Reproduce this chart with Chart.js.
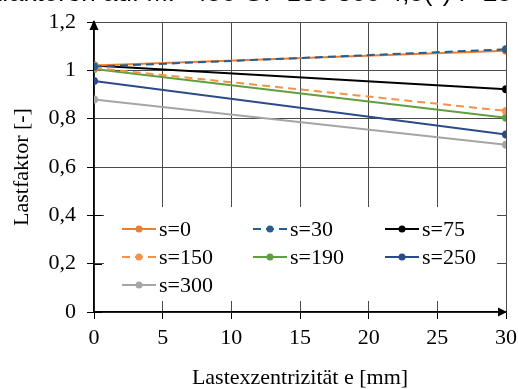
<!DOCTYPE html>
<html lang="de">
<head>
<meta charset="UTF-8" />
<title>Lastfaktor</title>
<script src="https://cdn.jsdelivr.net/npm/chart.js"></script>
<style>
  body { margin: 0; background: #fff; }
  canvas { display: block; }
</style>
</head>
<body>
<canvas id="myChart" width="518" height="389"></canvas>
<script>
// Lastexzentrizität e [mm]
var ecc = [0, 30];

// Lastfaktor je Serie
var s0   = [1.02, 1.081];
var s30  = [1.015, 1.087];
var s75  = [1.02, 0.922];
var s150 = [1.01, 0.832];
var s190 = [1.006, 0.804];
var s250 = [0.956, 0.734];
var s300 = [0.879, 0.692];

var labels = ["s=0", "s=30", "s=75", "s=150", "s=190", "s=250", "s=300"];
var values = [s0, s30, s75, s150, s190, s250, s300];
var colors = ["#ED7D31", "#255E91", "#000000", "#F4914A", "#5FA03C", "#2B4A8A", "#A5A5A5"];
var dashes = [[], [8, 5], [], [8, 5], [], [], []];

var titleText = "Lastfaktoren auf MP 450 GF 130 300 4,5(*) P 25";
var serif = "'Liberation Serif', 'Times New Roman', serif";

var datasets = values.map(function (v, i) {
  return {
    label: labels[i],
    data: v.map(function (y, j) { return { x: ecc[j], y: y }; }),
    borderColor: colors[i],
    backgroundColor: colors[i],
    borderWidth: 2,
    borderDash: dashes[i],
    pointRadius: 4,
    pointHoverRadius: 4,
    pointBorderWidth: 0,
    fill: false,
    order: i == 1 ? -1 : i
  };
});

// white legend box inside the plot, 3 columns
var legendBox = {
  id: "legendBox",
  beforeDatasetsDraw: function (chart) {
    var ctx = chart.ctx;
    ctx.save();
    ctx.fillStyle = "#fff";
    ctx.fillRect(104, 207, 393, 94);
    ctx.restore();
  },
  afterDraw: function (chart) {
    var ctx = chart.ctx;
    ctx.save();
    ctx.font = "22px " + serif;
    ctx.textBaseline = "middle";
    var colX = [122, 253, 385];
    var rowY = [229, 257, 285];
    chart.data.datasets.forEach(function (ds, i) {
      var x = colX[i % 3], y = rowY[Math.floor(i / 3)];
      ctx.strokeStyle = ds.borderColor;
      ctx.lineWidth = 2;
      ctx.setLineDash(ds.borderDash);
      ctx.beginPath();
      ctx.moveTo(x, y);
      ctx.lineTo(x + 34, y);
      ctx.stroke();
      ctx.setLineDash([]);
      ctx.fillStyle = ds.borderColor;
      ctx.beginPath();
      ctx.arc(x + 17, y, 3.5, 0, Math.PI * 2);
      ctx.fill();
      ctx.fillStyle = "#000";
      ctx.fillText(ds.label, x + 37, y + 1);
    });

    // axis arrows
    var xs = chart.scales.x, ys = chart.scales.y;
    var x0 = xs.getPixelForValue(0), y0 = ys.getPixelForValue(0);
    var yTop = ys.getPixelForValue(1.2), xEnd = xs.getPixelForValue(30);
    ctx.fillStyle = "#000";
    ctx.beginPath();
    ctx.moveTo(x0, yTop - 2);
    ctx.lineTo(x0 - 4.5, yTop + 8);
    ctx.lineTo(x0 + 4.5, yTop + 8);
    ctx.closePath();
    ctx.fill();
    ctx.beginPath();
    ctx.moveTo(xEnd + 1, y0);
    ctx.lineTo(xEnd - 8, y0 - 4.5);
    ctx.lineTo(xEnd - 8, y0 + 4.5);
    ctx.closePath();
    ctx.fill();

    // crossing tick marks (inner half)
    ctx.strokeStyle = "#000";
    ctx.lineWidth = 1;
    [0, 0.2, 0.4].forEach(function (v) {
      var py = Math.round(ys.getPixelForValue(v)) + 0.5;
      ctx.beginPath();
      ctx.moveTo(x0, py);
      ctx.lineTo(x0 + 8, py);
      ctx.stroke();
    });

    // title, cut off at the top edge
    ctx.font = "26px 'Liberation Sans', Arial, sans-serif";
    ctx.textAlign = "right";
    ctx.textBaseline = "alphabetic";
    ctx.fillText(titleText, 512, 1);
    ctx.restore();
  }
};

var ctx = document.getElementById("myChart").getContext("2d");
new Chart(ctx, {
  type: "line",
  data: { datasets: datasets },
  options: {
    responsive: false,
    animation: false,
    devicePixelRatio: 1,
    layout: { padding: { top: 22, right: 12, bottom: 0, left: 0 } },
    plugins: {
      legend: { display: false },
      tooltip: { enabled: false }
    },
    scales: {
      x: {
        type: "linear",
        min: 0,
        max: 30,
        ticks: {
          stepSize: 5,
          color: "#000",
          padding: 6,
          font: { family: serif, size: 22 }
        },
        grid: { color: "#4a4a4a", lineWidth: 1, tickLength: 7, tickColor: "#000" },
        border: { color: "#000", width: 1.5 },
        title: {
          display: true,
          text: "Lastexzentrizität e [mm]",
          color: "#000",
          font: { family: serif, size: 22 },
          padding: { top: 0, bottom: -2 }
        },
        afterFit: function (scale) {
          scale.height = 77;
          scale.paddingLeft = 0;
          scale.paddingRight = 0;
        }
      },
      y: {
        min: 0,
        max: 1.2,
        ticks: {
          stepSize: 0.2,
          color: "#000",
          padding: 11,
          font: { family: serif, size: 22 },
          callback: function (v) { return String(Math.round(v * 10) / 10).replace(".", ","); }
        },
        grid: { color: "#4a4a4a", lineWidth: 1, tickLength: 7, tickColor: "#000" },
        border: { color: "#000", width: 1.5 },
        title: {
          display: true,
          text: "Lastfaktor [-]",
          color: "#000",
          font: { family: serif, size: 22 },
          padding: { top: 9, bottom: 0 }
        },
        afterFit: function (scale) {
          scale.width = 94;
          scale.paddingTop = 0;
          scale.paddingBottom = 0;
        }
      }
    }
  },
  plugins: [legendBox]
});
</script>
</body>
</html>
